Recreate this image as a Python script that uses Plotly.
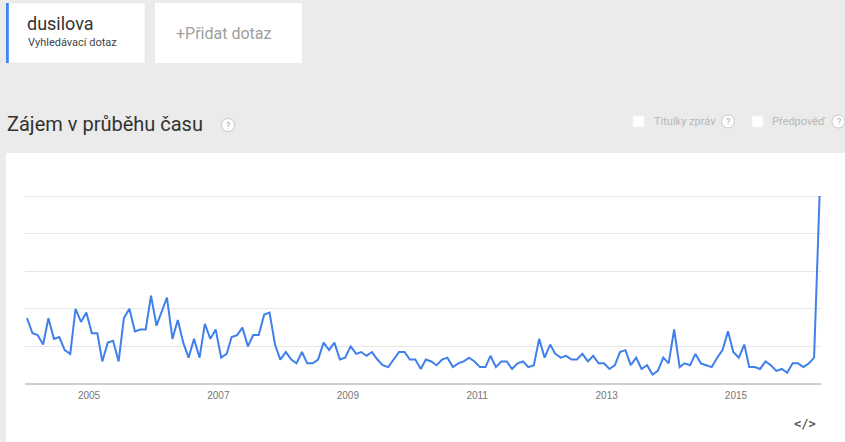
import pandas as pd
import plotly.graph_objects as go

# Monthly search interest, Jan 2004 .. Apr 2016
interest = [
    35, 27, 26, 21, 35, 24, 25, 18, 16, 40, 33, 38,   # 2004
    27, 27, 12, 22, 23, 12, 35, 40, 28, 29, 29, 47,   # 2005
    31, 39, 46, 24, 34, 22, 14, 24, 14, 32, 24, 29,   # 2006
    14, 16, 25, 26, 30, 20, 26, 26, 37, 38, 21, 13,   # 2007
    17, 13, 11, 17, 11, 11, 13, 22, 18, 22, 13, 14,   # 2008
    20, 16, 17, 15, 17, 13, 10, 9, 13, 17, 17, 13,    # 2009
    13, 8, 13, 12, 10, 13, 14, 9, 11, 12, 14, 12,     # 2010
    9, 9, 15, 9, 12, 12, 8, 11, 12, 9, 10, 24,        # 2011
    14, 21, 16, 14, 15, 13, 13, 16, 12, 15, 11, 11,   # 2012
    8, 10, 17, 18, 10, 14, 8, 10, 5, 7, 14, 11,       # 2013
    29, 9, 11, 10, 16, 11, 10, 9, 14, 18, 28, 17,     # 2014
    14, 21, 9, 9, 8, 12, 10, 7, 8, 6, 11, 11,         # 2015
    9, 11, 14, 100,                                   # 2016
]
months = pd.date_range("2004-01-01", periods=len(interest), freq="MS")
tick_dates = ["2004-12-16", "2006-12-16", "2008-12-16", "2010-12-16", "2012-12-16", "2014-12-16"]
tick_labels = ["2005", "2007", "2009", "2011", "2013", "2015"]
grid_values = [20, 40, 60, 80, 100]

W, H = 845, 442
L, R, T, B = 25, 24, 190, 58
PW, PH = W - L - R, H - T - B
Y0 = H - B  # pixel of value 0


def xp(px):
    return (px - L) / PW


def yp(py):
    return (Y0 - py) / PH


fig = go.Figure()
fig.add_trace(go.Scatter(
    x=months, y=interest, mode="lines",
    line=dict(color="#3f80ea", width=2), hoverinfo="skip", showlegend=False,
))

shapes = []
# white chart panel
shapes.append(dict(type="rect", xref="paper", yref="paper", x0=xp(6), x1=xp(846),
                   y0=yp(153), y1=yp(443), fillcolor="white", line_width=0, layer="below"))
# term card
shapes.append(dict(type="rect", xref="paper", yref="paper", x0=xp(6), x1=xp(145),
                   y0=yp(3), y1=yp(63), fillcolor="white", line=dict(color="#e0e0e0", width=0.5),
                   layer="below"))
shapes.append(dict(type="rect", xref="paper", yref="paper", x0=xp(6), x1=xp(8.8),
                   y0=yp(3), y1=yp(63), fillcolor="#4285f4", line_width=0, layer="below"))
# add-term card
shapes.append(dict(type="rect", xref="paper", yref="paper", x0=xp(155), x1=xp(302),
                   y0=yp(3), y1=yp(63), fillcolor="white", line_width=0, layer="below"))
# baseline
shapes.append(dict(type="line", xref="paper", yref="paper", x0=xp(25), x1=xp(821),
                   y0=yp(384), y1=yp(384), line=dict(color="#9e9e9e", width=1)))
# checkboxes
for cx in (633, 752):
    shapes.append(dict(type="rect", xref="paper", yref="paper", x0=xp(cx), x1=xp(cx + 11),
                       y0=yp(116), y1=yp(127), fillcolor="white", line=dict(color="#f2f2f2", width=1)))
# help circles
for cx, cy in ((228, 125), (728, 121.5), (838.5, 121.5)):
    shapes.append(dict(type="circle", xref="paper", yref="paper", x0=xp(cx - 6.5), x1=xp(cx + 6.5),
                       y0=yp(cy - 6.5), y1=yp(cy + 6.5), fillcolor="white",
                       line=dict(color="#c8c8c8", width=1)))

ann = []


def text(s, x, y, size, color, anchor="left", family="Roboto, Arial, sans-serif"):
    ann.append(dict(text=s, xref="paper", yref="paper", x=xp(x), y=yp(y), xanchor=anchor,
                    yanchor="middle", showarrow=False, font=dict(size=size, color=color, family=family)))


text("dusilova", 25, 23, 18, "#333333")
text("Vyhledávací dotaz", 26, 42, 11, "#444444")
text("+Přidat dotaz", 174, 33, 16, "#9e9e9e")
text("Zájem v průběhu času", 5, 124, 20, "#333333")
text("?", 228, 125.5, 9, "#aaaaaa", anchor="center")
text("Titulky zpráv", 652, 121.5, 11, "#b8b8b8")
text("?", 728, 122, 9, "#aaaaaa", anchor="center")
text("Předpověď", 770, 121.5, 11, "#b8b8b8")
text("?", 838.5, 122, 9, "#aaaaaa", anchor="center")
text("<b>&lt;/&gt;</b>", 805, 424, 12, "#555555", anchor="center", family="DejaVu Sans Mono, monospace")

fig.update_layout(
    width=W, height=H,
    margin=dict(l=L, r=R, t=T, b=B, pad=0),
    paper_bgcolor="#ebebeb", plot_bgcolor="white",
    shapes=shapes, annotations=ann,
    xaxis=dict(range=["2003-12-20 16:00", "2016-04-09"], tickvals=tick_dates, ticktext=tick_labels,
               showgrid=False, zeroline=False, showline=False, ticks="",
               ticklabelstandoff=4,
               tickfont=dict(size=10, color="#777777", family="Arial, Liberation Sans, sans-serif"),
               fixedrange=True),
    yaxis=dict(range=[0, 100 + 6 / 1.88], tickvals=grid_values, showticklabels=False,
               showgrid=True, gridcolor="#e6e6e6", gridwidth=1, zeroline=False, showline=False,
               fixedrange=True),
    showlegend=False,
)

fig.write_html(
    "out.html",
    config={"displayModeBar": False},
    post_script="document.body.style.margin='0';document.body.style.background='#ebebeb';"
                "document.body.style.overflow='hidden';",
)
